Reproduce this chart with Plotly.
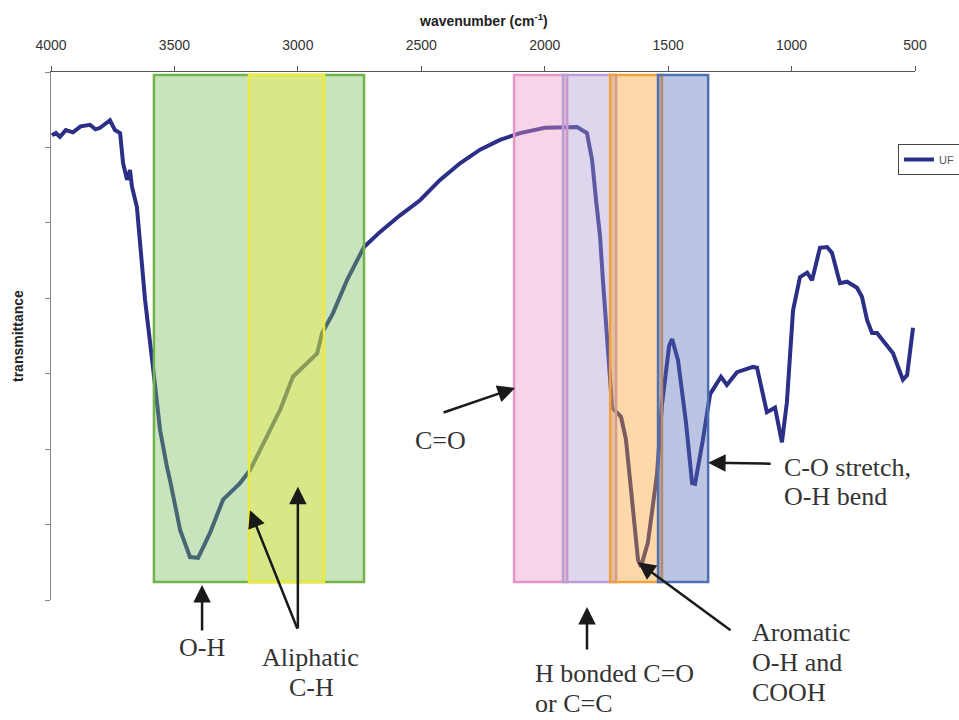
import plotly.graph_objects as go

# ---- data ----
wavenumber = [3996, 3980, 3964, 3940, 3911, 3880, 3842, 3820, 3801, 3780, 3761, 3741, 3720,
              3708, 3692, 3680, 3672,
              3652, 3639, 3627, 3619, 3587, 3571, 3558, 3530, 3518, 3477, 3437, 3404,
              3356, 3303, 3234, 3194, 3125, 3072, 3020, 2979, 2922, 2902, 2858, 2801,
              2732, 2667, 2586, 2505, 2424, 2343, 2262, 2181, 2100, 1999, 1926, 1869,
              1829, 1808, 1792, 1776, 1764, 1740, 1727, 1691, 1671, 1650, 1622, 1610,
              1582, 1545, 1525, 1496, 1484, 1460, 1428, 1403, 1391, 1359, 1330, 1286,
              1262, 1221, 1156, 1140, 1100, 1067, 1039, 1019, 994, 966, 937, 917, 885,
              856, 836, 804, 775, 735, 715, 694, 674, 654, 589, 549, 532, 508]
transmittance = [61.6, 61.9, 61.4, 62.3, 62.0, 62.8, 63.0, 62.4, 62.6, 63.2, 63.6, 62.3, 61.9,
                 57.9, 55.7, 57.0, 54.8,
                 52.1, 47.7, 43.4, 39.8, 30.9, 26.5, 22.5, 17.6, 15.9, 9.3, 5.7, 5.6,
                 8.9, 13.3, 15.5, 17.2, 21.6, 25.2, 29.6, 30.9, 32.7, 35.4, 38.0, 42.4,
                 46.8, 48.8, 51.0, 53.0, 55.7, 57.9, 59.7, 61.0, 61.9, 62.6, 62.7, 62.7,
                 61.9, 58.3, 53.0, 48.3, 42.3, 30.5, 25.5, 24.3, 21.3, 14.5, 5.3, 4.4,
                 7.6, 16.7, 25.9, 33.7, 34.6, 31.8, 23.6, 15.5, 15.4, 21.3, 27.3, 29.6,
                 28.5, 30.2, 30.9, 30.8, 24.9, 25.5, 20.9, 26.2, 38.4, 42.8, 43.4, 42.4, 46.7,
                 46.8, 46.0, 42.0, 42.2, 41.4, 40.2, 37.1, 35.4, 35.4, 32.7, 29.2, 29.8, 36.1]

x_ticks = [4000, 3500, 3000, 2500, 2000, 1500, 1000, 500]
series_name = "UF"

# highlighted bands (wavenumber start, end)
band_names = ["O-H", "Aliphatic C-H", "C=O", "H bonded", "Aromatic", "C-O"]
band_start = [3583, 3198, 2124, 1926, 1735, 1541]
band_end = [2732, 2894, 1909, 1711, 1525, 1338]
band_bottom = 2.4
band_top = 69.6
band_fill = ["rgba(115,187,90,0.4)", "rgba(245,240,50,0.38)", "rgba(235,147,197,0.4)",
             "rgba(172,152,207,0.4)", "rgba(247,157,42,0.4)", "rgba(85,107,182,0.4)"]
band_line = ["#70B44B", "#EEEA3A", "#E596C6", "#B8A0D2", "#F0A03C", "#5070B4"]

fig = go.Figure()
fig.add_trace(go.Scatter(x=wavenumber, y=transmittance, mode="lines", name=series_name,
                         line=dict(color="#2B2F86", width=4)))

for s, e, fc, lc in zip(band_start, band_end, band_fill, band_line):
    fig.add_shape(type="rect", xref="x", yref="y", x0=s, x1=e, y0=band_bottom, y1=band_top,
                  fillcolor=fc, line=dict(color=lc, width=2.5), layer="above")

W, H = 959, 720
L, R, T, B = 51, 44, 72, 120
PW, PH = W - L - R, H - T - B


def px(xp):
    return (xp - L) / PW


def py(yp):
    return (H - B - yp) / PH


serif = "Liberation Serif"
txt_col = "#333333"
# arrows: (x, y, xref, yref, ax, ay)
arrows = [
    (3388, 2.0, "x", "y", 0, 47),
    (3194, 11.9, "x", "y", 48, 120),
    (3000, 15.0, "x", "y", 0, 143),
    (2120, 28.1, "x", "y", -73, 25),
    (px(587), py(607), "paper", "paper", 0, 44),
    (1622, 5.0, "x", "y", 94, 69),
    (1338, 18.2, "x", "y", 64, 1),
]
for (x, y, xr, yr, ax, ay) in arrows:
    fig.add_annotation(x=x, y=y, xref=xr, yref=yr, ax=ax, ay=ay, text="",
                       showarrow=True, arrowhead=2, arrowsize=1.4, arrowwidth=2.5,
                       arrowcolor="#1a1a1a", standoff=0, startstandoff=0)

# text labels: (text, x_px, y_px, anchor)
labels = [
    ("O-H", 202, 647, "center"),
    ("Aliphatic", 310, 657, "center"),
    ("C-H", 311, 687, "center"),
    ("C=O", 440, 440, "center"),
    ("H bonded C=O", 533, 673, "left"),
    ("or C=C", 533, 703, "left"),
    ("Aromatic", 750, 632, "left"),
    ("O-H and", 750, 662, "left"),
    ("COOH", 750, 692, "left"),
    ("C-O stretch,", 782, 467, "left"),
    ("O-H bend", 782, 496, "left"),
]
for t, xp, yp, anc in labels:
    fig.add_annotation(x=px(xp), y=py(yp), xref="paper", yref="paper", text=t,
                       showarrow=False, xanchor=anc, yanchor="middle",
                       font=dict(family=serif, size=26, color=txt_col))

# axis titles
fig.add_annotation(x=px(483), y=py(20), xref="paper", yref="paper",
                   text="<b>wavenumber (cm<sup>-1</sup>)</b>", showarrow=False,
                   xanchor="center", yanchor="middle",
                   font=dict(family="Liberation Sans", size=14, color="#222"))
fig.add_annotation(x=px(18), y=py(336), xref="paper", yref="paper",
                   text="<b>transmittance</b>", showarrow=False, textangle=-90,
                   xanchor="center", yanchor="middle",
                   font=dict(family="Liberation Sans", size=14, color="#222"))

fig.update_xaxes(range=[4000, 500], side="top", tickmode="array", tickvals=x_ticks,
                 ticktext=[str(v) for v in x_ticks], ticks="outside", ticklen=5,
                 tickcolor="#555", showline=True, linecolor="#555", linewidth=1,
                 showgrid=False, zeroline=False, ticklabelstandoff=10,
                 tickfont=dict(family="Liberation Sans", size=14, color="#333"))
fig.update_yaxes(range=[0, 70], dtick=10, ticks="outside", ticklen=5, tickcolor="#888",
                 showline=True, linecolor="#888", linewidth=1, showgrid=False,
                 zeroline=False, showticklabels=False)

fig.update_layout(width=W, height=H, margin=dict(l=L, r=R, t=T, b=B, autoexpand=False),
                  plot_bgcolor="white", paper_bgcolor="white", showlegend=True,
                  legend=dict(x=px(898), y=py(144), xanchor="left", yanchor="top",
                              bordercolor="#444", borderwidth=1, bgcolor="white",
                              font=dict(family="Liberation Sans", size=11, color="#555"),
                              itemwidth=30, tracegroupgap=0))

fig.write_html("out.html")
